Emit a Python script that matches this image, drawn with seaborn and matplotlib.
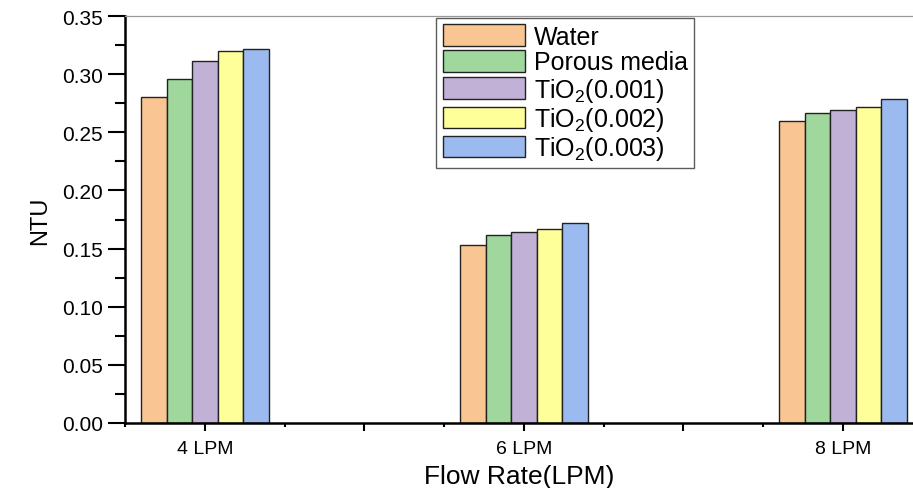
import numpy as np
import pandas as pd
import matplotlib
matplotlib.use("Agg")
import matplotlib.pyplot as plt
import seaborn as sns

# values
flow_rates = ["4 LPM", "6 LPM", "8 LPM"]
series = ["Water", "Porous media", "TiO$_{\\mathrm{2}}$(0.001)",
          "TiO$_{\\mathrm{2}}$(0.002)", "TiO$_{\\mathrm{2}}$(0.003)"]
water = [0.280, 0.153, 0.260]
porous = [0.296, 0.162, 0.267]
tio2_001 = [0.311, 0.164, 0.269]
tio2_002 = [0.320, 0.167, 0.272]
tio2_003 = [0.322, 0.172, 0.279]
colors = ["#F9C593", "#9FD79D", "#C2B1D6", "#FFFF99", "#9BBBF0"]

sns.set_style("ticks")
plt.rcParams["font.family"] = ["Liberation Sans", "DejaVu Sans"]
plt.rcParams["mathtext.fontset"] = "custom"
plt.rcParams["mathtext.rm"] = "Liberation Sans"
plt.rcParams["mathtext.it"] = "Liberation Sans"
for key in ["text.color", "axes.labelcolor", "xtick.color", "ytick.color"]:
    plt.rcParams[key] = "black"

rows = []
for name, vals in zip(series, [water, porous, tio2_001, tio2_002, tio2_003]):
    for fr, v in zip(flow_rates, vals):
        rows.append({"Flow": fr, "Series": name, "NTU": v})
df = pd.DataFrame(rows)

fig = plt.figure(figsize=(9.13, 4.89), dpi=100)
ax = fig.add_axes([0.137, 0.133, 0.863, 0.832])

sns.barplot(data=df, x="Flow", y="NTU", hue="Series", hue_order=series,
            order=flow_rates, palette=colors, saturation=1, width=0.4, gap=0,
            edgecolor="#222222", linewidth=1.0, ax=ax, errorbar=None)

ax.set_ylim(0, 0.35)
ax.set_xlim(-0.25, 2.22)
ax.set_yticks(np.arange(0, 0.351, 0.05))
ax.set_yticklabels([f"{t:.2f}" for t in np.arange(0, 0.351, 0.05)])
ax.set_yticks(np.arange(0.025, 0.35, 0.05), minor=True)
ax.set_xticks([0, 0.5, 1, 1.5, 2])
ax.set_xticklabels(["4 LPM", "", "6 LPM", "", "8 LPM"])
ax.set_xticks([-0.25, 0.25, 0.75, 1.25, 1.75], minor=True)

ax.tick_params(axis="y", which="major", length=12, width=1.5, labelsize=15, pad=4)
ax.tick_params(axis="y", which="minor", length=7, width=1.5, left=True)
ax.tick_params(axis="x", which="major", length=6, width=1.5, labelsize=14, pad=6)
ax.tick_params(axis="x", which="minor", length=3, width=1.5, bottom=True)

for s in ["left", "bottom"]:
    ax.spines[s].set_linewidth(1.8)
    ax.spines[s].set_color("black")
ax.spines["top"].set_color("#999999")
ax.spines["top"].set_linewidth(0.9)
ax.spines["right"].set_visible(False)

ax.set_xlabel("Flow Rate(LPM)", fontsize=19, labelpad=5)
ax.set_ylabel("NTU", fontsize=17, labelpad=8)

leg = ax.legend(loc="upper left", bbox_to_anchor=(0.395, 0.995), fontsize=18,
                frameon=True, fancybox=False, edgecolor="#333333",
                handlelength=3.3, handleheight=0.95, labelspacing=0.05,
                handletextpad=0.35, borderpad=0.25, borderaxespad=0)
leg.get_frame().set_linewidth(1.0)

fig.savefig("out.png", dpi=100)
